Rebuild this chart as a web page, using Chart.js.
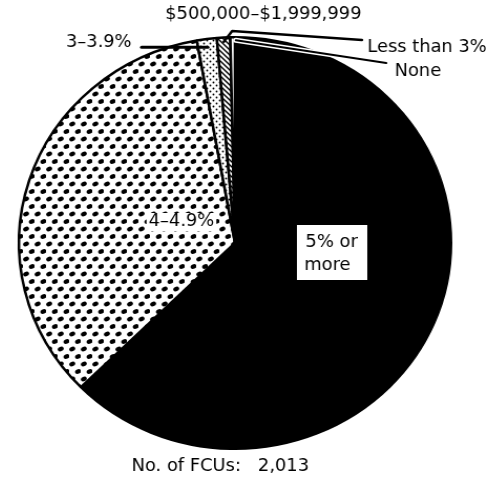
<!DOCTYPE html>
<html>
<head>
<meta charset="utf-8">
<script src="https://cdn.jsdelivr.net/npm/chart.js@4/dist/chart.umd.min.js"></script>
<style>
  html, body { margin: 0; padding: 0; background: #fff; overflow: hidden; }
  #wrap { width: 500px; height: 489px; position: relative; }
  /* the printed pie is slightly wider than tall */
  #pieChart { transform: scaleX(1.05); transform-origin: 235px 0; }
</style>
</head>
<body>
<div id="wrap"><canvas id="pieChart"></canvas></div>
<script>
// Dividend rate groups, clockwise from the top
const categories = ["5% or more", "4–4.9%", "3–3.9%", "Less than 3%", "None"];
const fcuCounts = [1261, 695, 30, 20, 7];
const groupTitle = "$500,000–$1,999,999";
const totalLabel = "No. of FCUs:   2,013";

const FONT = '"DejaVu Sans", sans-serif';

// --- fill patterns ---
function makePattern(w, h, draw) {
  const c = document.createElement("canvas");
  c.width = w; c.height = h;
  const g = c.getContext("2d");
  g.fillStyle = "#fff";
  g.fillRect(0, 0, w, h);
  g.fillStyle = "#000";
  g.strokeStyle = "#000";
  draw(g);
  return g.createPattern(c, "repeat");
}

const bigDots = makePattern(11, 15, g => {
  [[3, 4], [8.5, 11.5]].forEach(([x, y]) => {
    g.beginPath();
    g.ellipse(x, y, 2.9, 2.3, -0.4, 0, Math.PI * 2);
    g.fill();
  });
});

const smallDots = makePattern(6, 6, g => {
  [[1.5, 1.5], [4.5, 4.5]].forEach(([x, y]) => {
    g.beginPath();
    g.arc(x, y, 0.9, 0, Math.PI * 2);
    g.fill();
  });
});

const hatch = makePattern(5, 5, g => {
  g.lineWidth = 1.4;
  g.beginPath();
  g.moveTo(-1, -1); g.lineTo(6, 6);
  g.moveTo(-1, 4); g.lineTo(1, 6);
  g.moveTo(4, -1); g.lineTo(6, 1);
  g.stroke();
});

const fills = ["#000", bigDots, smallDots, hatch, "#fff"];

// --- labels and leader lines ---
const annotations = {
  id: "annotations",
  afterDatasetsDraw(chart) {
    const ctx = chart.ctx;
    const arcs = chart.getDatasetMeta(0).data;
    const onArc = (i, f) => {
      const a = arcs[i];
      const ang = (a.startAngle + a.endAngle) / 2;
      return { x: a.x + Math.cos(ang) * a.outerRadius * f, y: a.y + Math.sin(ang) * a.outerRadius * f };
    };

    ctx.save();
    ctx.fillStyle = "#000";
    ctx.textBaseline = "middle";
    ctx.lineCap = "round";
    ctx.lineJoin = "round";

    // 5% or more
    ctx.fillStyle = "#fff";
    ctx.fillRect(294, 225, 67, 55);
    ctx.fillStyle = "#000";
    ctx.font = "17px " + FONT;
    ctx.textAlign = "center";
    ctx.fillText("5% or", 327, 243);
    ctx.textAlign = "left";
    ctx.fillText("more", 301, 266);

    // 4–4.9%
    ctx.textAlign = "center";
    const w4 = ctx.measureText(categories[1]).width;
    ctx.fillStyle = "#fff";
    ctx.fillRect(184 - w4 / 2 - 2, 213, w4 + 4, 18);
    ctx.fillStyle = "#000";
    ctx.fillText(categories[1], 184, 222);

    // 3–3.9%
    const p3 = onArc(2, 0.96);
    ctx.textAlign = "left";
    ctx.fillText(categories[2], 74, 43);
    ctx.lineWidth = 3;
    ctx.beginPath();
    ctx.moveTo(146, p3.y);
    ctx.lineTo(p3.x, p3.y);
    ctx.stroke();

    // Less than 3%
    const pl = onArc(3, 0.98);
    ctx.fillText(categories[3], 361, 48);
    ctx.lineWidth = 2.5;
    ctx.beginPath();
    ctx.moveTo(356, 40);
    ctx.lineTo(pl.x + 8, 31);
    ctx.lineTo(pl.x, pl.y);
    ctx.stroke();

    // None
    const pn = onArc(4, 0.99);
    ctx.fillText(categories[4], 387, 72);
    ctx.strokeStyle = "#fff";
    ctx.lineWidth = 5;
    ctx.beginPath();
    ctx.moveTo(379, 63);
    ctx.lineTo(pn.x + 3, pn.y + 1);
    ctx.stroke();
    ctx.strokeStyle = "#000";
    ctx.lineWidth = 2;
    ctx.stroke();

    // group title and total
    ctx.textAlign = "center";
    ctx.fillText(groupTitle, 262, 15);
    ctx.fillText(totalLabel, 221, 467);
    ctx.restore();
  }
};

new Chart(document.getElementById("pieChart"), {
  type: "pie",
  data: {
    labels: categories,
    datasets: [{
      data: fcuCounts,
      backgroundColor: fills,
      borderColor: "#000",
      borderWidth: 2.5,
      hoverOffset: 0
    }]
  },
  options: {
    responsive: true,
    maintainAspectRatio: false,
    animation: false,
    rotation: 0,
    layout: { padding: { left: 28, right: 58, top: 36, bottom: 39 } },
    plugins: {
      legend: { display: false },
      tooltip: { enabled: false }
    }
  },
  plugins: [annotations]
});
</script>
</body>
</html>
